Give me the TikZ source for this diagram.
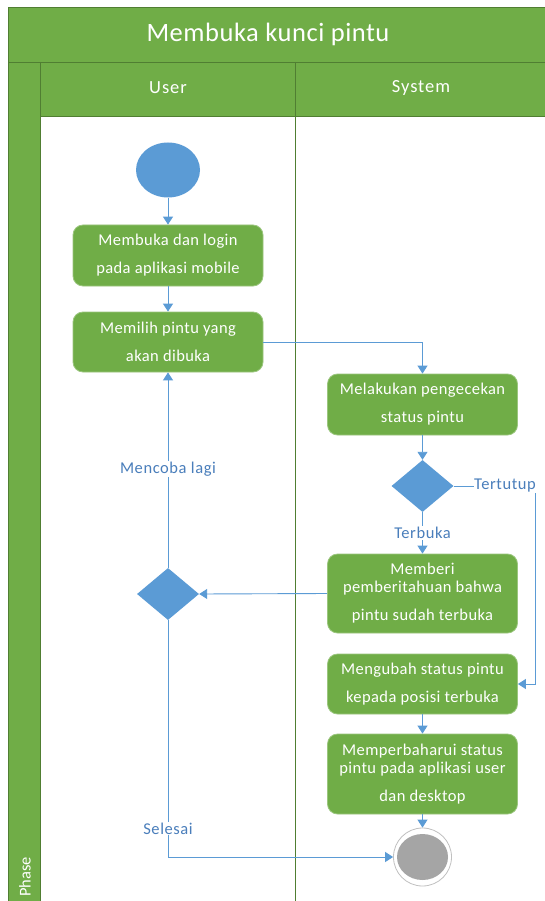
\documentclass[tikz,border=0pt]{standalone}
\usepackage{fontspec}
\setmainfont{Carlito}
\usetikzlibrary{arrows.meta,shapes.geometric}
\definecolor{grn}{HTML}{70AD47}
\definecolor{dgrn}{HTML}{507E32}
\definecolor{blu}{HTML}{5B9BD5}
\definecolor{lblu}{HTML}{4A7EBB}
\definecolor{gry}{HTML}{A5A5A5}
\newfontfamily\boxfont[LetterSpace=2.5]{Carlito}
\newfontfamily\lblfont[LetterSpace=3.5]{Carlito}
\newfontfamily\hdrfont[LetterSpace=5]{Carlito}
\newfontfamily\ttlfont[LetterSpace=2]{Carlito}
\tikzset{
  actbox/.style={rectangle, rounded corners=10pt, fill=grn, draw=grn!70!white, line width=0.8pt,
    minimum width=190pt, text=white, align=center, inner sep=0pt,
    font=\boxfont\fontsize{16.5}{18}\selectfont},
  dec/.style={diamond, fill=blu, minimum width=62pt, minimum height=52pt, inner sep=0pt},
  conn/.style={draw=blu, line width=0.9pt, -{Triangle[width=10pt,length=8pt]}},
  plain/.style={draw=blu, line width=0.9pt},
  lbl/.style={text=lblu, fill=white, inner sep=1pt, font=\lblfont\fontsize{16.5}{18}\selectfont},
  hdr/.style={text=white, font=\hdrfont\fontsize{18.5}{20}\selectfont},
  lane/.style={draw=dgrn, line width=0.8pt}
}
\begin{document}
\begin{tikzpicture}[x=1pt,y=-1pt]
\useasboundingbox (0,0) rectangle (545,901);
\fill[white] (0,0) rectangle (545,901);
% title and headers
\fill[grn] (8,7) rectangle (545,62);
\draw[lane] (8,7) rectangle (545,62);
\node[text=white, font=\ttlfont\fontsize{26.5}{30}\selectfont] (title) at (268,34) {Membuka kunci pintu};
\fill[grn] (8,62) rectangle (40,901);
\fill[grn] (40,62) rectangle (545,116);
\draw[lane] (8,62) -- (8,901);
\draw[lane] (40,62) -- (40,901);
\draw[lane] (295,62) -- (295,901);
\draw[lane] (40,116) -- (545,116);
\draw[lane] (8,62) -- (545,62);
\node[hdr] (huser) at (168,88) {User};
\node[hdr] (hsys) at (421,88) {System};
\node[text=white, font=\fontsize{16.5}{18}\selectfont, rotate=90, anchor=east, inner sep=0pt] (phase) at (25,857) {Phase};
% nodes
\node[ellipse, fill=blu, minimum width=64pt, minimum height=55pt, inner sep=0pt] (start) at (168,170) {};
\node[actbox, minimum height=61pt] (b1) at (168,255.5) {Membuka dan login\\[10pt]pada aplikasi mobile};
\node[actbox, minimum height=60pt] (b2) at (168,342) {Memilih pintu yang\\[10pt]akan dibuka};
\node[actbox, minimum height=61pt] (b3) at (422.5,404.5) {Melakukan pengecekan\\[10pt]status pintu};
\node[dec] (d1) at (422.5,486) {};
\node[actbox, minimum height=79pt] (b4) at (422.5,593.5) {Memberi\\pemberitahuan bahwa\\[10pt]pintu sudah terbuka};
\node[dec] (d2) at (168,594) {};
\node[actbox, minimum height=60pt] (b5) at (422.5,684) {Mengubah status pintu\\[10pt]kepada posisi terbuka};
\node[actbox, minimum height=80pt] (b6) at (422.5,774) {Memperbaharui status\\pintu pada aplikasi user\\[10pt]dan desktop};
\node[circle, draw=gry!70!white, fill=white, line width=0.8pt, minimum size=58pt, inner sep=0pt] (end) at (422.5,857) {};
\node[ellipse, fill=gry, minimum width=51pt, minimum height=46pt, inner sep=0pt] (endin) at (422.5,857) {};
\coordinate (c1) at (422.5,342);
\coordinate (c2) at (535,486);
\coordinate (c3) at (535,684);
\coordinate (c4) at (168,857);
% connectors
\draw[conn] (start) -- (b1);
\draw[conn] (b1) -- (b2);
\draw[conn] (b2.east) -- (c1) -- (b3.north);
\draw[conn] (b3) -- (d1);
\draw[conn] (d1.south) -- node[lbl, pos=0.5] {Terbuka} (b4.north);
\draw[plain] (d1.east) -- (c2);
\draw[conn] (c2) -- (c3) -- (b5.east);
\node[lbl, anchor=east, inner sep=0pt] (tt) at (536,486) {Tertutup};
\draw[conn] (b4.west) -- (d2.east);
\draw[conn] (d2.north) -- node[lbl, pos=0.505] {Mencoba lagi} (b2.south);
\draw[conn] (d2.south) -- node[lbl, pos=0.88] {Selesai} (c4) -- (end.west);
\draw[conn] (b5) -- (b6);
\draw[conn] (b6) -- (end);
\end{tikzpicture}
\end{document}
